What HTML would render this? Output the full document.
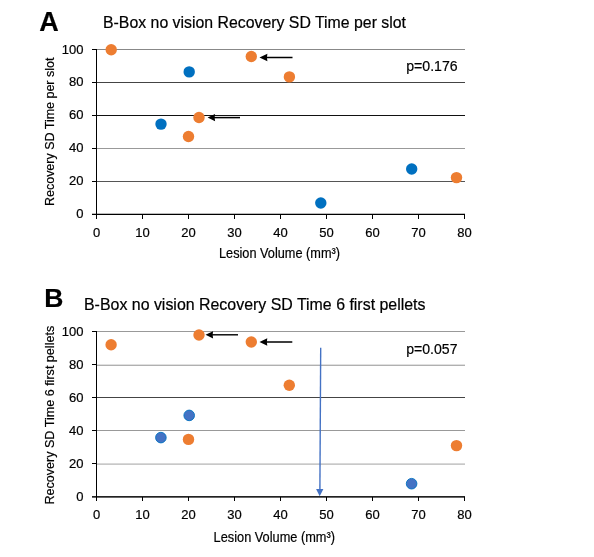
<!DOCTYPE html>
<html><head><meta charset="utf-8">
<style>
html,body{margin:0;padding:0;background:#fff;}
body{width:594px;height:557px;overflow:hidden;position:relative;}
svg{position:absolute;left:0;top:0;will-change:transform;}
text{font-family:"Liberation Sans",sans-serif;fill:#000;stroke:#000;stroke-width:0.2px;}
</style></head>
<body>
<svg width="594" height="557" viewBox="0 0 594 557">
<rect x="0" y="0" width="594" height="557" fill="#fff"/>

<!-- ================= CHART A ================= -->
<text x="39.2" y="30.6" font-size="27" font-weight="bold">A</text>
<text x="103" y="28" font-size="16" textLength="303" lengthAdjust="spacingAndGlyphs">B-Box no vision Recovery SD Time per slot</text>

<g shape-rendering="crispEdges">
  <rect x="97" y="49" width="368" height="1" fill="#888"/>
  <rect x="97" y="82" width="368" height="1" fill="#444"/>
  <rect x="97" y="115" width="368" height="1" fill="#111"/>
  <rect x="97" y="148" width="368" height="1" fill="#999"/>
  <rect x="97" y="181" width="368" height="1" fill="#555"/>
  <rect x="92" y="213" width="373" height="1" fill="#bbb"/>
  <rect x="92" y="214" width="373" height="1" fill="#000"/>
  <!-- y axis -->
  <rect x="96" y="49" width="1" height="170" fill="#000"/>
  <!-- y ticks -->
  <rect x="92" y="49" width="4" height="1" fill="#000"/>
  <rect x="92" y="82" width="4" height="1" fill="#000"/>
  <rect x="92" y="115" width="4" height="1" fill="#000"/>
  <rect x="92" y="148" width="4" height="1" fill="#000"/>
  <rect x="92" y="181" width="4" height="1" fill="#000"/>
  <!-- x ticks -->
  <rect x="142" y="215" width="1" height="4" fill="#000"/>
  <rect x="188" y="215" width="1" height="4" fill="#000"/>
  <rect x="234" y="215" width="1" height="4" fill="#000"/>
  <rect x="280" y="215" width="1" height="4" fill="#000"/>
  <rect x="326" y="215" width="1" height="4" fill="#000"/>
  <rect x="372" y="215" width="1" height="4" fill="#000"/>
  <rect x="418" y="215" width="1" height="4" fill="#000"/>
  <rect x="464" y="215" width="1" height="4" fill="#000"/>
</g>

<g font-size="13" text-anchor="end">
  <text x="83.5" y="53.5">100</text>
  <text x="83.5" y="86.4">80</text>
  <text x="83.5" y="119.2">60</text>
  <text x="83.5" y="152.0">40</text>
  <text x="83.5" y="184.8">20</text>
  <text x="83.5" y="218.0">0</text>
</g>
<g font-size="13" text-anchor="middle">
  <text x="96.5" y="236.9">0</text>
  <text x="142.5" y="236.9">10</text>
  <text x="188.5" y="236.9">20</text>
  <text x="234.5" y="236.9">30</text>
  <text x="280.5" y="236.9">40</text>
  <text x="326.5" y="236.9">50</text>
  <text x="372.5" y="236.9">60</text>
  <text x="418.5" y="236.9">70</text>
  <text x="464.5" y="236.9">80</text>
</g>
<text x="219" y="258" font-size="14.4" textLength="121" lengthAdjust="spacingAndGlyphs">Lesion Volume (mm³)</text>
<text transform="translate(54.4,206) rotate(-90)" x="0" y="0" font-size="13.4" textLength="148.4" lengthAdjust="spacingAndGlyphs">Recovery SD Time per slot</text>
<text x="406.2" y="71.4" font-size="14.5" textLength="51.5" lengthAdjust="spacingAndGlyphs">p=0.176</text>

<g fill="#ED7D31">
  <circle cx="111.2" cy="49.8" r="5.7"/>
  <circle cx="251.3" cy="56.5" r="5.7"/>
  <circle cx="289.4" cy="76.9" r="5.7"/>
  <circle cx="199" cy="117.5" r="5.7"/>
  <circle cx="188.5" cy="136.5" r="5.7"/>
  <circle cx="456.5" cy="177.6" r="5.7"/>
</g>
<g fill="#0070C0">
  <circle cx="189.2" cy="71.9" r="5.7"/>
  <circle cx="161" cy="124.1" r="5.7"/>
  <circle cx="411.7" cy="169" r="5.7"/>
  <circle cx="320.8" cy="203" r="5.7"/>
</g>
<!-- arrows A -->
<g fill="#000">
  <rect x="266" y="56.75" width="26.5" height="1.5"/>
  <path d="M259.5 57.5 L267.4 53.8 L266.9 57.5 L267.4 61.2 Z"/>
  <rect x="214" y="116.85" width="26" height="1.5"/>
  <path d="M207.6 117.6 L215.1 113.9 L214.6 117.6 L215.1 121.3 Z"/>
</g>

<!-- ================= CHART B ================= -->
<text x="44.2" y="307.3" font-size="26.5" font-weight="bold">B</text>
<text x="84" y="309.8" font-size="15.9" textLength="341.5" lengthAdjust="spacingAndGlyphs">B-Box no vision Recovery SD Time 6 first pellets</text>

<g shape-rendering="crispEdges">
  <rect x="97" y="331" width="368" height="1" fill="#999"/>
  <rect x="97" y="364" width="368" height="1" fill="#e0e0e0"/>
  <rect x="97" y="365" width="368" height="1" fill="#b0b0b0"/>
  <rect x="97" y="397" width="368" height="1" fill="#444"/>
  <rect x="97" y="430" width="368" height="1" fill="#999"/>
  <rect x="97" y="463" width="368" height="1" fill="#d8d8d8"/>
  <rect x="97" y="464" width="368" height="1" fill="#c8c8c8"/>
  <rect x="92" y="496" width="373" height="1" fill="#222"/>
  <rect x="92" y="497" width="373" height="1" fill="#666"/>
  <rect x="96" y="331" width="1" height="170" fill="#000"/>
  <rect x="92" y="331" width="4" height="1" fill="#000"/>
  <rect x="92" y="364" width="4" height="1" fill="#000"/>
  <rect x="92" y="397" width="4" height="1" fill="#000"/>
  <rect x="92" y="430" width="4" height="1" fill="#000"/>
  <rect x="92" y="463" width="4" height="1" fill="#000"/>
  <rect x="142" y="497" width="1" height="4" fill="#000"/>
  <rect x="188" y="497" width="1" height="4" fill="#000"/>
  <rect x="234" y="497" width="1" height="4" fill="#000"/>
  <rect x="280" y="497" width="1" height="4" fill="#000"/>
  <rect x="326" y="497" width="1" height="4" fill="#000"/>
  <rect x="372" y="497" width="1" height="4" fill="#000"/>
  <rect x="418" y="497" width="1" height="4" fill="#000"/>
  <rect x="464" y="497" width="1" height="4" fill="#000"/>
</g>

<g font-size="13" text-anchor="end">
  <text x="83.5" y="336.2">100</text>
  <text x="83.5" y="369.2">80</text>
  <text x="83.5" y="402.2">60</text>
  <text x="83.5" y="435.2">40</text>
  <text x="83.5" y="468.2">20</text>
  <text x="83.5" y="501.2">0</text>
</g>
<g font-size="13" text-anchor="middle">
  <text x="96.5" y="518.6">0</text>
  <text x="142.5" y="518.6">10</text>
  <text x="188.5" y="518.6">20</text>
  <text x="234.5" y="518.6">30</text>
  <text x="280.5" y="518.6">40</text>
  <text x="326.5" y="518.6">50</text>
  <text x="372.5" y="518.6">60</text>
  <text x="418.5" y="518.6">70</text>
  <text x="464.5" y="518.6">80</text>
</g>
<text x="213.6" y="541.7" font-size="14.4" textLength="121.4" lengthAdjust="spacingAndGlyphs">Lesion Volume (mm³)</text>
<text transform="translate(54.4,504.6) rotate(-90)" x="0" y="0" font-size="13.4" textLength="178.8" lengthAdjust="spacingAndGlyphs">Recovery SD Time 6 first pellets</text>
<text x="406.2" y="354.4" font-size="14.5" textLength="51.3" lengthAdjust="spacingAndGlyphs">p=0.057</text>

<g fill="#ED7D31">
  <circle cx="111.1" cy="344.7" r="5.7"/>
  <circle cx="199" cy="335" r="5.7"/>
  <circle cx="251.3" cy="342" r="5.7"/>
  <circle cx="289.3" cy="385.2" r="5.7"/>
  <circle cx="188.5" cy="439.4" r="5.7"/>
  <circle cx="456.5" cy="445.6" r="5.7"/>
</g>
<g fill="#4472C4" stroke="#0070C0" stroke-width="0.9">
  <circle cx="189.2" cy="415.4" r="5.3"/>
  <circle cx="160.9" cy="437.6" r="5.3"/>
  <circle cx="411.6" cy="483.7" r="5.3"/>
</g>
<g fill="#000">
  <rect x="212" y="334.1" width="26" height="1.4"/>
  <path d="M205.5 334.8 L213.1 331.2 L212.6 334.8 L213.1 338.4 Z"/>
  <rect x="266" y="341.25" width="26.3" height="1.5"/>
  <path d="M259.5 342 L267.3 338.2 L266.8 342 L267.3 345.8 Z"/>
</g>
<!-- blue arrow -->
<path d="M320.7 347.8 L319.9 490" stroke="#4472C4" stroke-width="1.4" fill="none"/>
<path d="M316.1 489 L323.4 489 L319.7 496.2 Z" fill="#4472C4"/>

</svg>
</body></html>
